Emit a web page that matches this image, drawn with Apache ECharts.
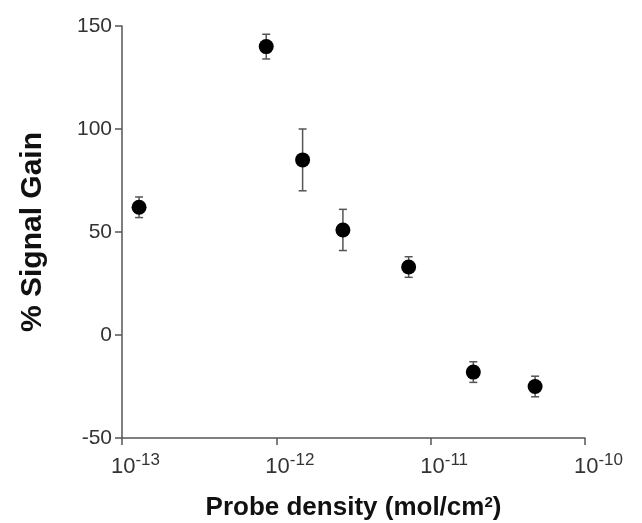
<!DOCTYPE html>
<html>
<head>
<meta charset="utf-8">
<script src="https://cdn.jsdelivr.net/npm/echarts@6/dist/echarts.min.js"></script>
<style>html,body{margin:0;padding:0;background:#fff;}#c{width:642px;height:523px;}</style>
</head>
<body>
<div id="c"></div>
<script>
var density = [1.29e-13, 8.6e-13, 1.48e-12, 2.7e-12, 7.2e-12, 1.89e-11, 4.75e-11];
var signalGain = [62, 140, 85, 51, 33, -18, -25];
var errorSize = [5, 6, 15, 10, 5, 5, 5];
var yTicks = [-50, 0, 50, 100, 150];

var points = density.map(function (d, i) { return [d, signalGain[i]]; });
var bars = density.map(function (d, i) { return [d, signalGain[i] - errorSize[i], signalGain[i] + errorSize[i]]; });

var chart = echarts.init(document.getElementById('c'));
var FONT = 'Liberation Sans, Arial, sans-serif';
chart.setOption({
  animation: false,
  backgroundColor: '#fff',
  grid: { left: 122, right: 57, top: 26, bottom: 85, containLabel: false, outerBoundsMode: 'none' },
  xAxis: {
    type: 'log', logBase: 10, min: 1e-13, max: 1e-10,
    name: 'Probe density (mol/cm{s|2})',
    nameLocation: 'middle', nameGap: 57,
    nameTextStyle: {
      fontFamily: FONT, fontSize: 26, fontWeight: 'bold', color: '#111',
      rich: { s: { fontFamily: FONT, fontSize: 15, fontWeight: 'bold', color: '#111', verticalAlign: 'top', padding: [0, 0, 10, 0] } }
    },
    axisLine: { show: true, onZero: false, lineStyle: { color: '#555', width: 1.5 } },
    axisTick: { show: true, inside: false, length: 7, lineStyle: { color: '#555', width: 1.5 } },
    minorTick: { show: false },
    splitLine: { show: false },
    axisLabel: {
      margin: 14,
      formatter: function (v) {
        var e = Math.round(Math.log(v) / Math.LN10);
        return '{sp|}{b|10}{sup|' + e + '}';
      },
      rich: {
        sp: { width: 27 },
        b: { fontFamily: FONT, fontSize: 22, color: '#333' },
        sup: { fontFamily: FONT, fontSize: 17, color: '#333', verticalAlign: 'top', padding: [0, 0, 12, 0] }
      }
    }
  },
  yAxis: {
    type: 'value', min: -50, max: 150, interval: 50,
    name: '% Signal Gain', nameLocation: 'middle', nameRotate: 90, nameGap: 74,
    nameTextStyle: { fontFamily: FONT, fontSize: 30, fontWeight: 'bold', color: '#111' },
    axisLine: { show: true, lineStyle: { color: '#555', width: 1.5 } },
    axisTick: { show: true, inside: false, length: 7, lineStyle: { color: '#555', width: 1.5 } },
    splitLine: { show: false },
    axisLabel: { fontFamily: FONT, fontSize: 21, color: '#333', margin: 10 }
  },
  series: [
    {
      type: 'custom',
      data: bars,
      encode: { x: 0, y: [1, 2] },
      z: 2,
      renderItem: function (params, api) {
        var x = api.value(0);
        var lo = api.coord([x, api.value(1)]);
        var hi = api.coord([x, api.value(2)]);
        var w = 4;
        var st = { stroke: '#555', lineWidth: 1.5, fill: null };
        return {
          type: 'group',
          children: [
            { type: 'line', shape: { x1: lo[0], y1: lo[1], x2: hi[0], y2: hi[1] }, style: st },
            { type: 'line', shape: { x1: lo[0] - w, y1: lo[1], x2: lo[0] + w, y2: lo[1] }, style: st },
            { type: 'line', shape: { x1: hi[0] - w, y1: hi[1], x2: hi[0] + w, y2: hi[1] }, style: st }
          ]
        };
      }
    },
    {
      type: 'scatter',
      data: points,
      symbol: 'circle',
      symbolSize: 15,
      z: 3,
      itemStyle: { color: '#000', opacity: 1 }
    }
  ]
});
</script>
</body>
</html>
